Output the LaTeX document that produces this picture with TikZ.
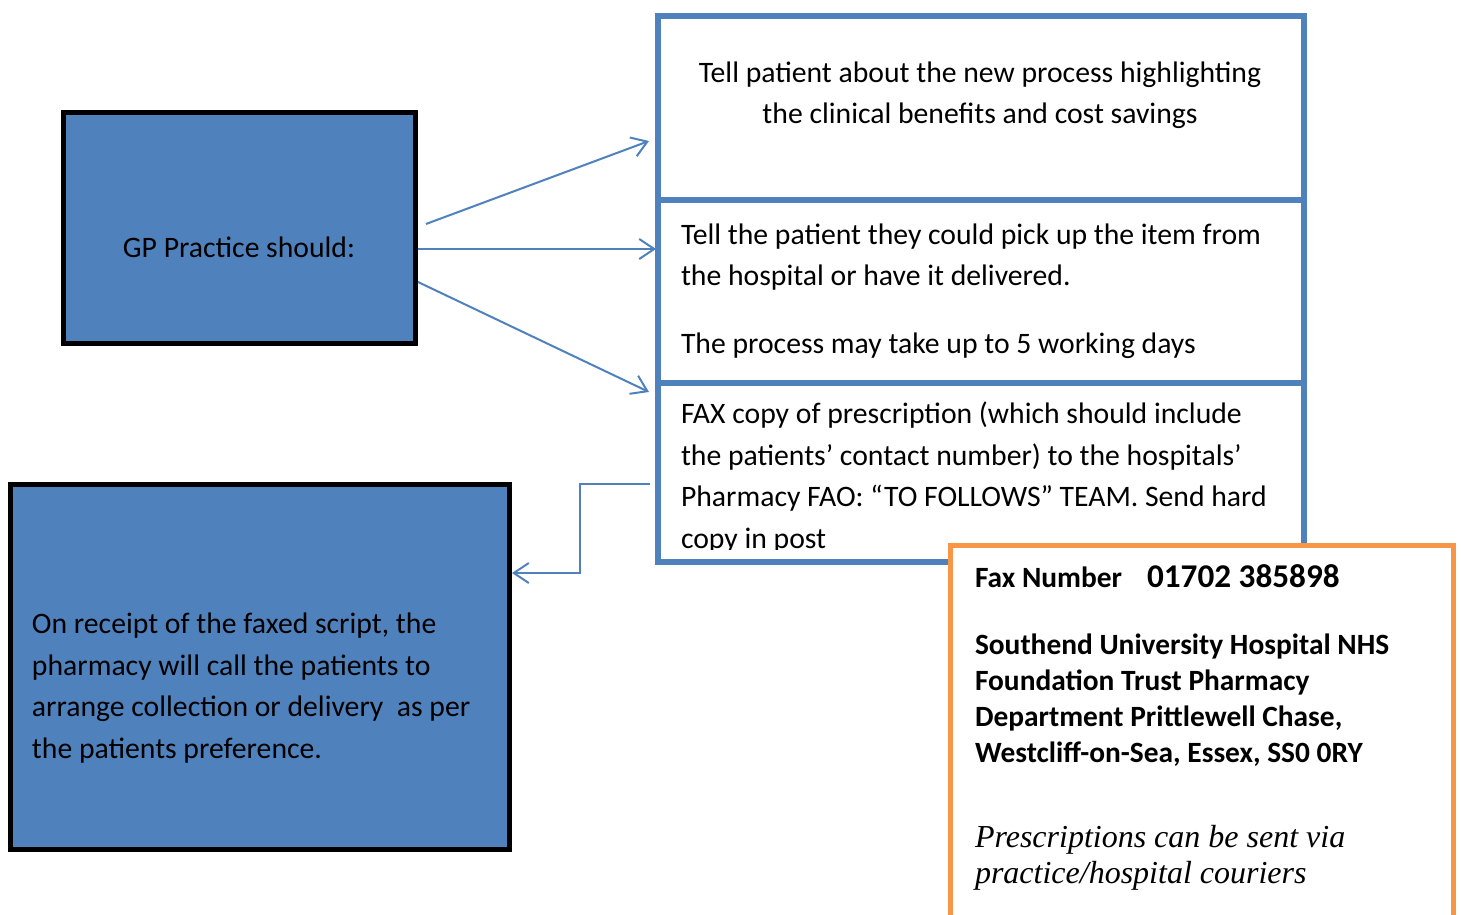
\documentclass[tikz,border=0pt]{standalone}
\usepackage{fontspec}
\setmainfont{Carlito}
\newfontfamily\couriersfont{Liberation Serif}
\usetikzlibrary{arrows.meta}
\definecolor{boxblue}{HTML}{4F81BD}
\definecolor{boxorange}{HTML}{F79646}

\begin{document}
\begin{tikzpicture}[x=0.5pt, y=-0.5pt,
	every node/.style={inner sep=0pt, outer sep=0pt},
	bluebox/.style={draw=boxblue, line width=3pt, minimum width=323pt, anchor=north west},
	blackbox/.style={draw=black, line width=2.5pt, fill=boxblue, anchor=north west},
	orangebox/.style={draw=boxorange, line width=2.5pt, fill=white, anchor=north west},
	txt/.style={font=\fontsize{14.85}{20.75}\selectfont, align=left, anchor=base west},
	conn/.style={draw=boxblue, line width=1pt, -{Straight Barb[length=7.5pt, width=10pt]}}]

\useasboundingbox (0,0) rectangle (1461,915);

%% GP Praxis
\node[blackbox, minimum width=176pt, minimum height=115.5pt] (gp) at (63.5,112.5) {};
\node[txt, align=center, anchor=base] (gptxt) at (239,257) {GP Practice should:};

%% Schritte rechts (base = letzte Zeile)
\node[bluebox, minimum height=92pt] (tell) at (658,16) {};
\node[bluebox, minimum height=91.5pt] (pick) at (658,200) {};
\node[bluebox, minimum height=89.5pt] (fax) at (658,383) {};

\node[txt, align=center, anchor=base] (telltxt) at (980,123.5)
	{Tell patient about the new process highlighting\\the clinical benefits and cost savings};
\node[txt] (picktxt) at (681,353)
	{Tell the patient they could pick up the item from\\the hospital or have it delivered.\\[13pt]The process may take up to 5 working days};
\begin{scope}
	\clip (661,386) rectangle (1301,549);
	\node[txt] (faxtxt) at (681,548)
		{FAX copy of prescription (which should include\\the patients’ contact number) to the hospitals’\\Pharmacy FAO: “TO FOLLOWS” TEAM. Send hard\\copy in post};
\end{scope}

%% Apotheke
\node[blackbox, minimum width=249.5pt, minimum height=182.5pt] (pharm) at (10.5,484.5) {};
\node[txt] (pharmtxt) at (32,758)
	{On receipt of the faxed script, the\\pharmacy will call the patients to\\arrange collection or delivery\ \ as per\\the patients preference.};

%% Adresse
\node[orangebox, minimum width=251.5pt, minimum height=190pt] (addr) at (950.5,545.5) {};
\node[txt, font=\fontsize{14.7}{17.85}\selectfont\bfseries] (addrtxt) at (975,762)
	{\makebox[86pt][l]{Fax Number}{\fontsize{16.6}{17.85}\selectfont 01702 385898}\\[16pt]Southend University Hospital NHS\\Foundation Trust Pharmacy\\Department Prittlewell Chase,\\Westcliff-on-Sea, Essex, SS0 0RY};
\node[txt, font=\fontsize{16}{18}\couriersfont\itshape] (couriers) at (975,883)
	{Prescriptions can be sent via\\practice/hospital couriers};

%% Verbindungen
\coordinate (gp1) at (426,224);
\coordinate (gp2) at (418,249);
\coordinate (gp3) at (418,282);
\coordinate (in1) at (649,141);
\coordinate (in2) at (656,249);
\coordinate (in3) at (649,392);
\coordinate (out4) at (650,484);
\coordinate (in4) at (512,573);
\draw[conn] (gp1) -- (in1);
\draw[conn] (gp2) -- (in2);
\draw[conn] (gp3) -- (in3);
\draw[conn] (out4) -- ++(-70,0) |- (in4);

\end{tikzpicture}
\end{document}
